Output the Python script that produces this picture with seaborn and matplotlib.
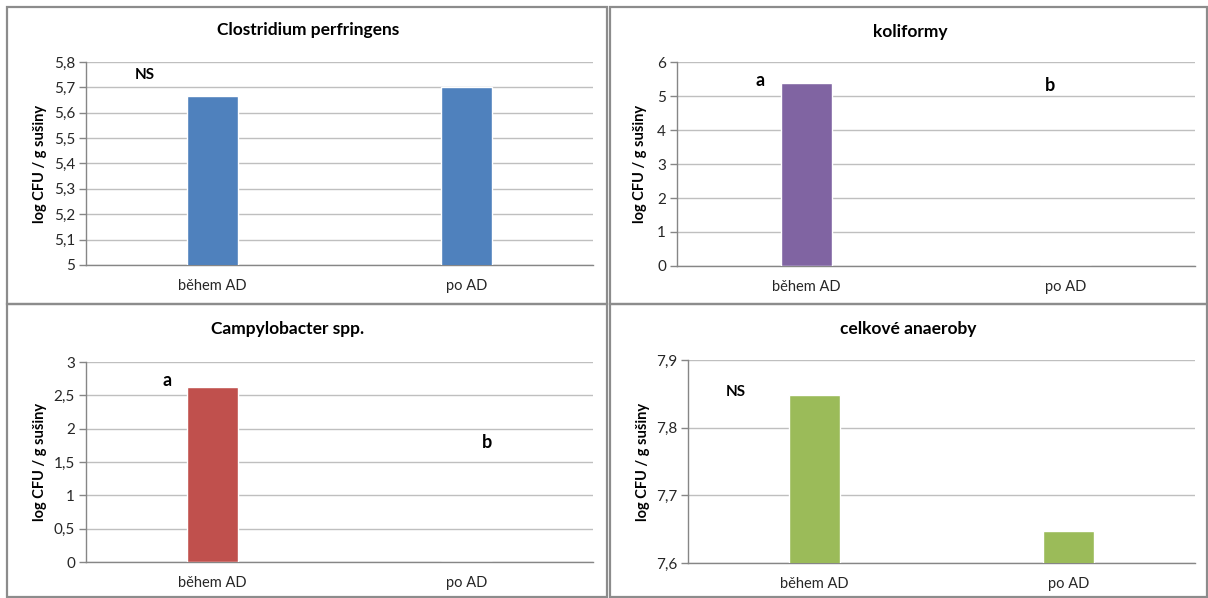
import matplotlib
matplotlib.use("Agg")
import matplotlib.pyplot as plt
from matplotlib.patches import Rectangle
from matplotlib.ticker import FuncFormatter, FixedLocator
import seaborn as sns
import pandas as pd

sns.set_style("white")
plt.rcParams['font.family'] = ['Lato', 'DejaVu Sans']

categories = ["během AD", "po AD"]
titles = ["Clostridium perfringens", "koliformy", "Campylobacter spp.", "celkové anaeroby"]
clostridium = [5.665, 5.70]
koliformy = [5.37, 0.0]
campylobacter = [2.63, 0.0]
anaeroby = [7.848, 7.648]
colors = ["#4F81BD", "#8064A2", "#C0504D", "#9BBB59"]
ylims = [(5.0, 5.8), (0, 6), (0, 3), (7.6, 7.9)]
yticks = [[5.0, 5.1, 5.2, 5.3, 5.4, 5.5, 5.6, 5.7, 5.8],
          [0, 1, 2, 3, 4, 5, 6],
          [0, 0.5, 1, 1.5, 2, 2.5, 3],
          [7.6, 7.7, 7.8, 7.9]]
annotations = [
    [("NS", -0.27, 5.749)],
    [("a", -0.18, 5.47), ("b", 0.94, 5.32)],
    [("a", -0.18, 2.73), ("b", 1.08, 1.79)],
    [("NS", -0.31, 7.853)],
]
ylabel = "log CFU / g sušiny"

W, H = 1208, 598
fig = plt.figure(figsize=(W / 100, H / 100), dpi=100)

# axes boxes in pixels: left, right, top(y), bottom(y)
boxes = [(86, 593, 62, 265), (677, 1195, 62, 266), (86, 593, 362, 562), (688, 1195, 360, 563)]
# panel frames in pixels: x0, y0, x1, y1
frames = [(7, 7, 607, 304), (610, 7, 1207, 304), (7, 304, 607, 597), (610, 304, 1207, 597)]
title_pos = [(308, 30), (910, 32), (288, 329), (908, 329)]
ylabel_x = [40, 640, 40, 643]

values_all = [clostridium, koliformy, campylobacter, anaeroby]


def fmt(v, pos):
    s = ("%g" % round(v, 3))
    return s.replace(".", ",")


for i in range(4):
    x0, y0, x1, y1 = frames[i]
    fig.add_artist(Rectangle((x0 / W, 1 - y1 / H), (x1 - x0) / W, (y1 - y0) / H,
                             transform=fig.transFigure, fill=False,
                             edgecolor="#8C8C8C", linewidth=1.6, zorder=0))
    l, r, t, b = boxes[i]
    ax = fig.add_axes([l / W, 1 - b / H, (r - l) / W, (b - t) / H])
    df = pd.DataFrame({"kat": categories, "val": values_all[i]})
    sns.barplot(data=df, x="kat", y="val", color=colors[i], width=0.2,
                saturation=1, ax=ax, zorder=3)
    ax.set_xlim(-0.5, 1.5)
    ax.set_ylim(*ylims[i])
    ax.set_yticks(yticks[i])
    ax.yaxis.set_major_formatter(FuncFormatter(fmt))
    ax.xaxis.set_minor_locator(FixedLocator([-0.5, 0.5, 1.5]))
    ax.tick_params(axis="x", which="major", length=0, labelsize=10.5, colors="#262626", pad=10)
    ax.tick_params(axis="x", which="minor", length=5, color="#868686", width=1)
    ax.tick_params(axis="y", which="major", length=5, color="#868686", width=1,
                   labelsize=11, labelcolor="#262626", pad=3, left=True)
    ax.grid(axis="y", color="#BFBFBF", linewidth=1, zorder=0)
    ax.set_axisbelow(True)
    for s in ["top", "right"]:
        ax.spines[s].set_visible(False)
    for s in ["left", "bottom"]:
        ax.spines[s].set_color("#868686")
        ax.spines[s].set_linewidth(1)
    ax.set_xlabel("")
    ax.set_ylabel("")
    tx, ty = title_pos[i]
    fig.text(tx / W, 1 - ty / H, titles[i], ha="center", va="center",
             fontsize=12.5, fontweight="bold", color="black")
    fig.text(ylabel_x[i] / W, 1 - ((t + b) / 2) / H, ylabel, rotation=90,
             ha="center", va="center", fontsize=10.5, fontweight="bold", color="black")
    for (txt, xx, yy) in annotations[i]:
        ax.text(xx, yy, txt, ha="center", va="center", fontweight="bold",
                fontsize=13 if txt != "NS" else 11, color="black", zorder=5)

fig.savefig("out.png", dpi=100, facecolor="white")
